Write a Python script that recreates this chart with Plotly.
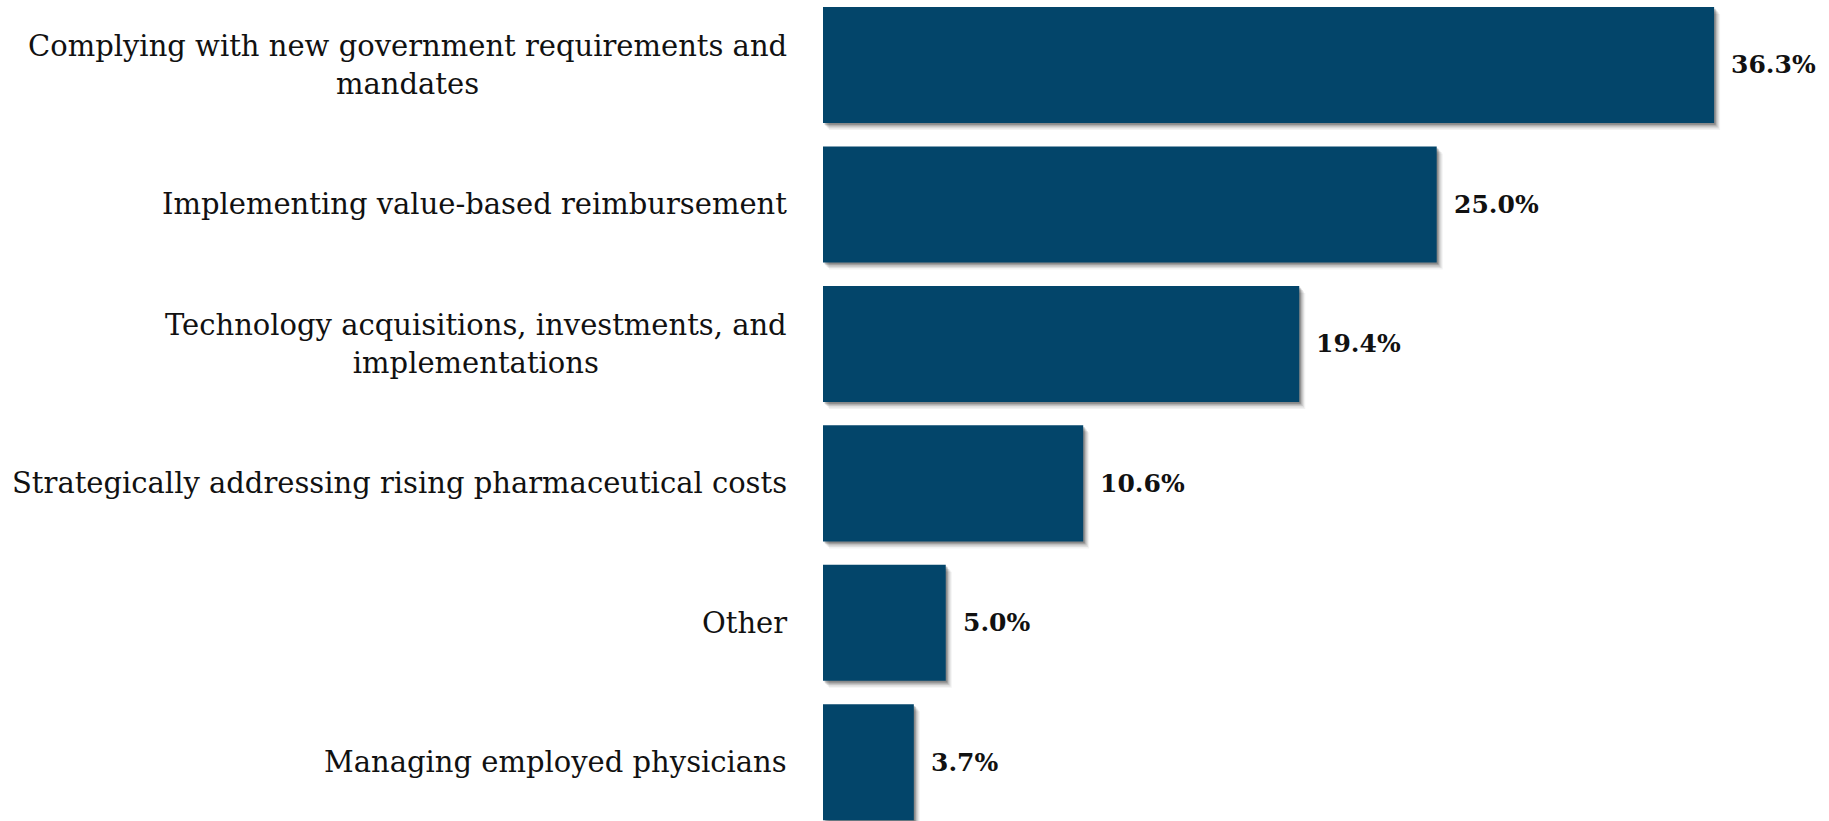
import plotly.graph_objects as go

# Survey results: share of respondents per challenge
categories = [
    "Complying with new government requirements and<br>mandates",
    "Implementing value-based reimbursement",
    "Technology acquisitions, investments, and<br>implementations",
    "Strategically addressing rising pharmaceutical costs",
    "Other",
    "Managing employed physicians",
]
values = [36.3, 25.0, 19.4, 10.6, 5.0, 3.7]
value_labels = ["36.3%", "25.0%", "19.4%", "10.6%", "5.0%", "3.7%"]

W, H = 1829, 821
ML = 823
X_MAX = 40.98
Y_RANGE = [5.421, -0.466]
BAR_W = 0.832
BAR_COLOR = "#03456A"

px_x = X_MAX / (W - ML)                      # data units per pixel (x)
px_y = (Y_RANGE[0] - Y_RANGE[1]) / H         # data units per pixel (y)

positions = list(range(len(categories)))

fig = go.Figure()

# soft drop shadow built from a few offset translucent bars
for d, op in [(10, 0.05), (8, 0.08), (6, 0.11), (4, 0.15), (2.5, 0.18)]:
    fig.add_trace(go.Bar(
        x=values, y=positions, orientation="h",
        base=d * px_x * 0.6, width=BAR_W, offset=-BAR_W / 2 + d * px_y * 0.7,
        marker=dict(color=f"rgba(0,0,0,{op})", line=dict(width=0)),
        hoverinfo="skip", showlegend=False,
    ))

fig.add_trace(go.Bar(
    x=values, y=positions, orientation="h",
    width=BAR_W, offset=-BAR_W / 2,
    marker=dict(color=BAR_COLOR, line=dict(width=0)),
    showlegend=False,
))

annotations = []
for p, cat in zip(positions, categories):
    annotations.append(dict(
        x=0, y=p, xref="x", yref="y", text=cat, showarrow=False,
        xanchor="right", yanchor="middle", align="center", xshift=-34,
        font=dict(family="DejaVu Serif", size=29, color="#111111"),
    ))
for p, v, lab in zip(positions, values, value_labels):
    annotations.append(dict(
        x=v, y=p, xref="x", yref="y", text=f"<b>{lab}</b>", showarrow=False,
        xanchor="left", yanchor="middle", xshift=15,
        font=dict(family="DejaVu Serif", size=25, color="#111111"),
    ))

fig.update_layout(
    width=W, height=H,
    margin=dict(l=ML, r=0, t=0, b=0),
    paper_bgcolor="white", plot_bgcolor="white",
    barmode="overlay",
    xaxis=dict(range=[0, X_MAX], visible=False, fixedrange=True),
    yaxis=dict(range=Y_RANGE, visible=False, fixedrange=True),
    annotations=annotations,
)

fig.write_html("out.html", config={"displayModeBar": False})
